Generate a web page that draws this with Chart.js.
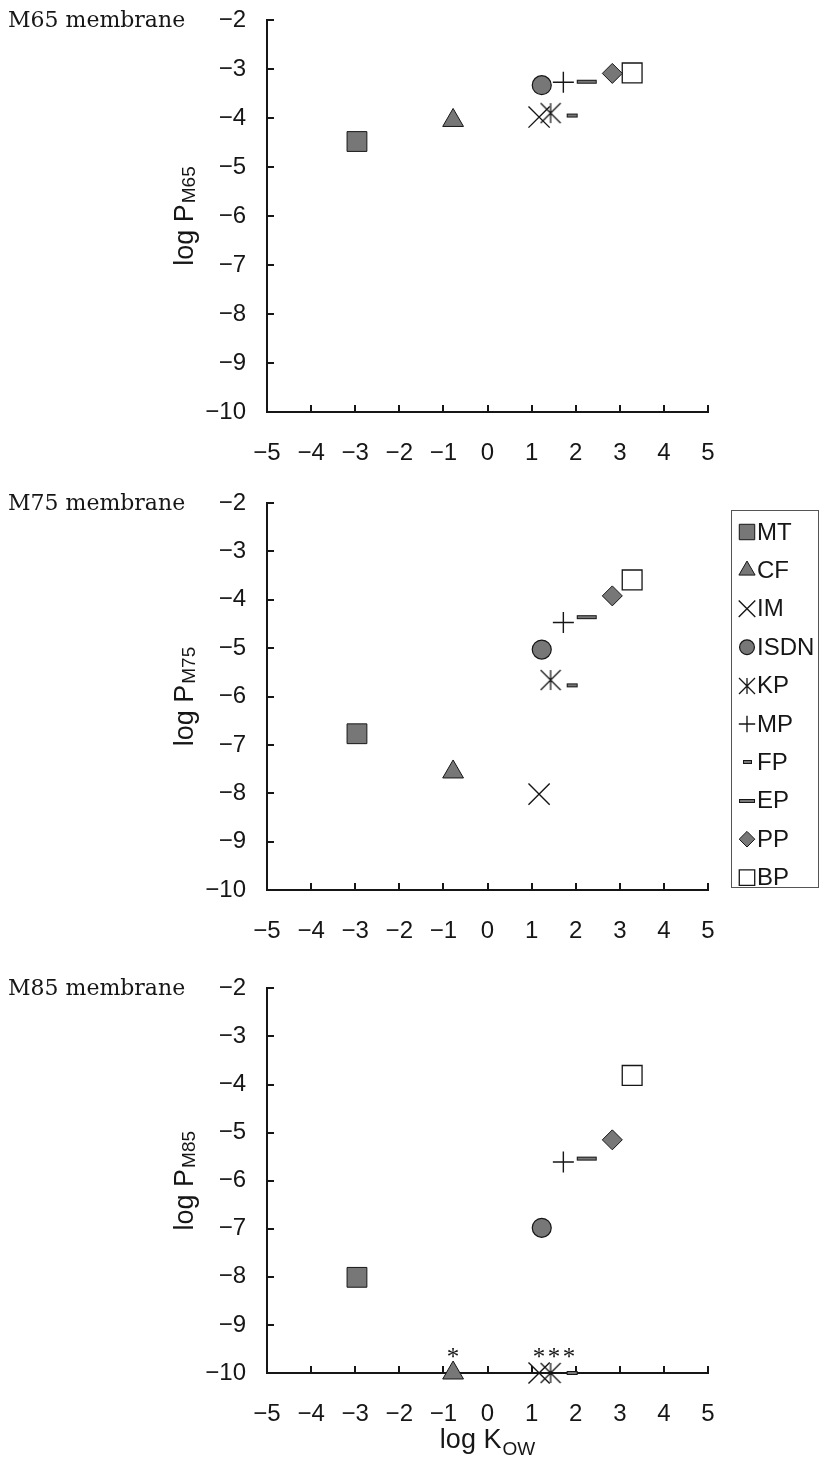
<!DOCTYPE html>
<html lang="en">
<head>
<meta charset="UTF-8">
<title>log P vs log Kow</title>
<script src="https://cdn.jsdelivr.net/npm/chart.js"></script>
<style>
  html, body { margin: 0; padding: 0; background: #fff; }
  #wrap { position: relative; width: 820px; height: 1458px; }
  .panel { position: absolute; left: 0; width: 820px; height: 486px; }
</style>
</head>
<body>
<div id="wrap">
  <div class="panel" style="top:0"><canvas id="c65"></canvas></div>
  <div class="panel" style="top:486px"><canvas id="c75"></canvas></div>
  <div class="panel" style="top:972px"><canvas id="c85"></canvas></div>
</div>
<script>
// permeants and their octanol/water partition coefficients
const compounds = ['MT', 'CF', 'IM', 'ISDN', 'KP', 'MP', 'FP', 'EP', 'PP', 'BP'];
const logKow = [-2.96, -0.78, 1.17, 1.23, 1.43, 1.72, 1.92, 2.25, 2.83, 3.28];

// log permeability coefficient for each membrane
const logPM65 = [-4.48, -4.05, -3.98, -3.33, -3.90, -3.27, -3.95, -3.26, -3.09, -3.08];
const logPM75 = [-6.77, -7.56, -8.02, -5.03, -5.66, -4.47, -5.77, -4.36, -3.92, -3.59];
const logPM85 = [-8.01, -10, -10, -6.98, -10, -5.61, -10, -5.54, -5.15, -3.81];

// not detected through M85 -> plotted on the axis with an asterisk
const belowLimitM85 = ['CF', 'IM', 'KP', 'FP'];

const xTicks = [-5, -4, -3, -2, -1, 0, 1, 2, 3, 4, 5];
const yTicks = [-2, -3, -4, -5, -6, -7, -8, -9, -10];

const INK = '#161616';
const GREY = '#777777';
const SANS = '"Liberation Sans", Arial, sans-serif';

function makeCanvas(w, h, draw) {
  const c = document.createElement('canvas');
  c.width = w; c.height = h;
  draw(c.getContext('2d'), w, h);
  return c;
}

// six-armed asterisk (X plus vertical bar)
function asterisk(s) {
  return makeCanvas(s + 2, s + 2, (g, w, h) => {
    g.strokeStyle = INK; g.lineWidth = 1.3;
    g.beginPath();
    g.moveTo(w / 2, 1); g.lineTo(w / 2, h - 1);
    g.moveTo(1, 1); g.lineTo(w - 1, h - 1);
    g.moveTo(w - 1, 1); g.lineTo(1, h - 1);
    g.stroke();
  });
}

// flat bar marker
function bar(len) {
  return makeCanvas(len + 2, 6, (g) => {
    g.fillStyle = GREY; g.fillRect(1, 1.5, len, 3);
    g.strokeStyle = INK; g.lineWidth = 1;
    g.strokeRect(1.5, 1.5, len - 1, 3);
  });
}

function markerFor(name, k) {
  const m = { MT:   { style: 'rect', r: 14, bg: GREY, bw: 1 },
              CF:   { style: 'triangle', r: 12, bg: GREY, bw: 1 },
              IM:   { style: 'crossRot', r: 15, bg: INK, bw: 1.4 },
              ISDN: { style: 'circle', r: 9.5, bg: GREY, bw: 1.2 },
              KP:   { style: asterisk(Math.round(20 * k)), r: 10, bg: INK, bw: 0 },
              MP:   { style: 'cross', r: 10.5, bg: INK, bw: 1.4 },
              FP:   { style: bar(Math.round(11 * k)), r: 6, bg: GREY, bw: 0 },
              EP:   { style: bar(Math.round(20 * k)), r: 10, bg: GREY, bw: 0 },
              PP:   { style: 'rectRot', r: 10, bg: GREY, bw: 1 },
              BP:   { style: 'rect', r: 14, bg: '#fff', bw: 1.3 } }[name];
  return { pointStyle: m.style, radius: m.r * k, backgroundColor: m.bg, borderColor: INK, borderWidth: m.bw };
}

const fmt = v => (v < 0 ? '\u2212' + Math.abs(v) : String(v));

// tick marks pointing into the plot
const innerTicks = {
  id: 'innerTicks',
  beforeDatasetsDraw(chart) {
    const { ctx, chartArea: a, scales: { x, y } } = chart;
    ctx.save();
    ctx.strokeStyle = INK; ctx.lineWidth = 2;
    ctx.beginPath();
    xTicks.forEach(v => {
      const px = Math.round(x.getPixelForValue(v));
      ctx.moveTo(px, a.bottom); ctx.lineTo(px, a.bottom - 7);
    });
    yTicks.forEach(v => {
      const py = Math.round(y.getPixelForValue(v));
      ctx.moveTo(a.left, py); ctx.lineTo(a.left + 7, py);
    });
    ctx.stroke();
    ctx.restore();
  }
};

function textWithSub(ctx, main, sub, drop, mainPx, subPx) {
  ctx.font = mainPx + 'px ' + SANS;
  const w1 = ctx.measureText(main).width;
  ctx.font = subPx + 'px ' + SANS;
  const w2 = ctx.measureText(sub).width;
  const x0 = -(w1 + w2 + 1) / 2;
  ctx.font = mainPx + 'px ' + SANS;
  ctx.fillText(main, x0, 0);
  ctx.font = subPx + 'px ' + SANS;
  ctx.fillText(sub, x0 + w1 + 1, drop);
}

// asterisks for neighbouring points are set as one evenly spaced run
function starRuns(xs, gap) {
  const sorted = xs.slice().sort((a, b) => a - b);
  const runs = [];
  sorted.forEach(px => {
    const last = runs[runs.length - 1];
    if (last && px - last[last.length - 1] < gap) last.push(px); else runs.push([px]);
  });
  return runs;
}

const decor = {
  id: 'decor',
  afterDraw(chart, args, o) {
    const { ctx, chartArea: a, scales: { x, y } } = chart;
    ctx.save();
    ctx.fillStyle = INK;

    // panel title
    ctx.font = '22px "DejaVu Serif", serif';
    ctx.textAlign = 'left'; ctx.textBaseline = 'middle';
    ctx.fillText(o.title, 8, a.top + 1);

    // y-axis title, rotated
    ctx.save();
    ctx.translate(193, (a.top + a.bottom) / 2);
    ctx.rotate(-Math.PI / 2);
    ctx.textAlign = 'left'; ctx.textBaseline = 'alphabetic';
    textWithSub(ctx, 'log P', o.sub, 2, 27, 19);
    ctx.restore();

    // x-axis title
    if (o.xTitle) {
      ctx.save();
      ctx.translate((a.left + a.right) / 2, a.bottom + 75);
      ctx.textAlign = 'left'; ctx.textBaseline = 'alphabetic';
      textWithSub(ctx, 'log K', 'OW', 7, 27, 19);
      ctx.restore();
    }

    // asterisks over undetected permeants
    if (o.flags) {
      ctx.font = '25px "Liberation Serif", serif';
      ctx.textAlign = 'center'; ctx.textBaseline = 'alphabetic';
      const xs = o.flags.map(name => x.getPixelForValue(logKow[compounds.indexOf(name)]));
      const py = y.getPixelForValue(-10);
      starRuns(xs, 40).forEach(run => {
        const mid = run.reduce((s, v) => s + v, 0) / run.length;
        run.forEach((_, j) => ctx.fillText('*', mid + (j - (run.length - 1) / 2) * 15, py - 8));
      });
    }

    // framed legend
    if (o.legend) {
      const L = o.legend;
      ctx.strokeStyle = '#555'; ctx.lineWidth = 1;
      ctx.strokeRect(L.x + 0.5, L.y + 0.5, L.w, L.h);
      ctx.font = '24px ' + SANS;
      ctx.textAlign = 'left'; ctx.textBaseline = 'middle';
      compounds.forEach((name, i) => {
        const cy = L.y + L.first + i * L.step;
        const m = markerFor(name, 0.78);
        if (typeof m.pointStyle === 'string') {
          ctx.save();
          ctx.fillStyle = m.backgroundColor; ctx.strokeStyle = m.borderColor;
          ctx.lineWidth = m.borderWidth || 1;
          Chart.helpers.drawPoint(ctx, { pointStyle: m.pointStyle, radius: m.radius, rotation: 0, borderWidth: m.borderWidth || 1 }, L.x + 16, cy);
          ctx.restore();
        } else {
          const im = m.pointStyle;
          ctx.drawImage(im, Math.round(L.x + 16 - im.width / 2), Math.round(cy - im.height / 2));
        }
        ctx.fillStyle = INK;
        ctx.fillText(name, L.x + 26, cy + 1);
      });
    }
    ctx.restore();
  }
};

const panels = [
  { canvas: 'c65', title: 'M65 membrane', sub: 'M65', values: logPM65, pad: { top: 20, bottom: 14 } },
  { canvas: 'c75', title: 'M75 membrane', sub: 'M75', values: logPM75, pad: { top: 17, bottom: 22 },
    legend: { x: 731, y: 24, w: 87, h: 377, first: 22, step: 38.4 } },
  { canvas: 'c85', title: 'M85 membrane', sub: 'M85', values: logPM85, pad: { top: 10, bottom: 25 },
    flags: belowLimitM85, xTitle: true }
];

panels.forEach(p => {
  new Chart(document.getElementById(p.canvas), {
    type: 'scatter',
    data: {
      datasets: compounds.map((name, i) => {
        const m = markerFor(name, 1);
        return {
          label: name,
          data: [{ x: logKow[i], y: p.values[i] }],
          pointStyle: m.pointStyle,
          pointRadius: m.radius,
          pointBackgroundColor: m.backgroundColor,
          pointBorderColor: m.borderColor,
          pointBorderWidth: m.borderWidth,
          clip: false
        };
      })
    },
    options: {
      responsive: true,
      maintainAspectRatio: false,
      animation: false,
      events: [],
      layout: { padding: { left: 0, right: 112, top: p.pad.top, bottom: p.pad.bottom } },
      plugins: {
        legend: { display: false },
        tooltip: { enabled: false },
        decor: { title: p.title, sub: p.sub, values: p.values, legend: p.legend, flags: p.flags, xTitle: p.xTitle }
      },
      scales: {
        x: {
          type: 'linear', min: -5, max: 5,
          grid: { display: false, drawTicks: false },
          border: { display: true, color: INK, width: 2 },
          ticks: { color: INK, padding: 27, autoSkip: false, maxRotation: 0, minRotation: 0,
                   font: { family: SANS, size: 24 }, callback: fmt },
          afterBuildTicks: s => { s.ticks = xTicks.map(v => ({ value: v })); },
          afterFit: s => { s.height = 60; s.paddingLeft = 0; s.paddingRight = 0; }
        },
        y: {
          type: 'linear', min: -10, max: -2,
          grid: { display: false, drawTicks: false },
          border: { display: true, color: INK, width: 2 },
          ticks: { color: INK, padding: 21, autoSkip: false,
                   font: { family: SANS, size: 24 }, callback: fmt },
          afterBuildTicks: s => { s.ticks = yTicks.slice().reverse().map(v => ({ value: v })); },
          afterFit: s => { s.width = 267; s.paddingTop = 0; s.paddingBottom = 0; }
        }
      }
    },
    plugins: [innerTicks, decor]
  });
});
</script>
</body>
</html>
